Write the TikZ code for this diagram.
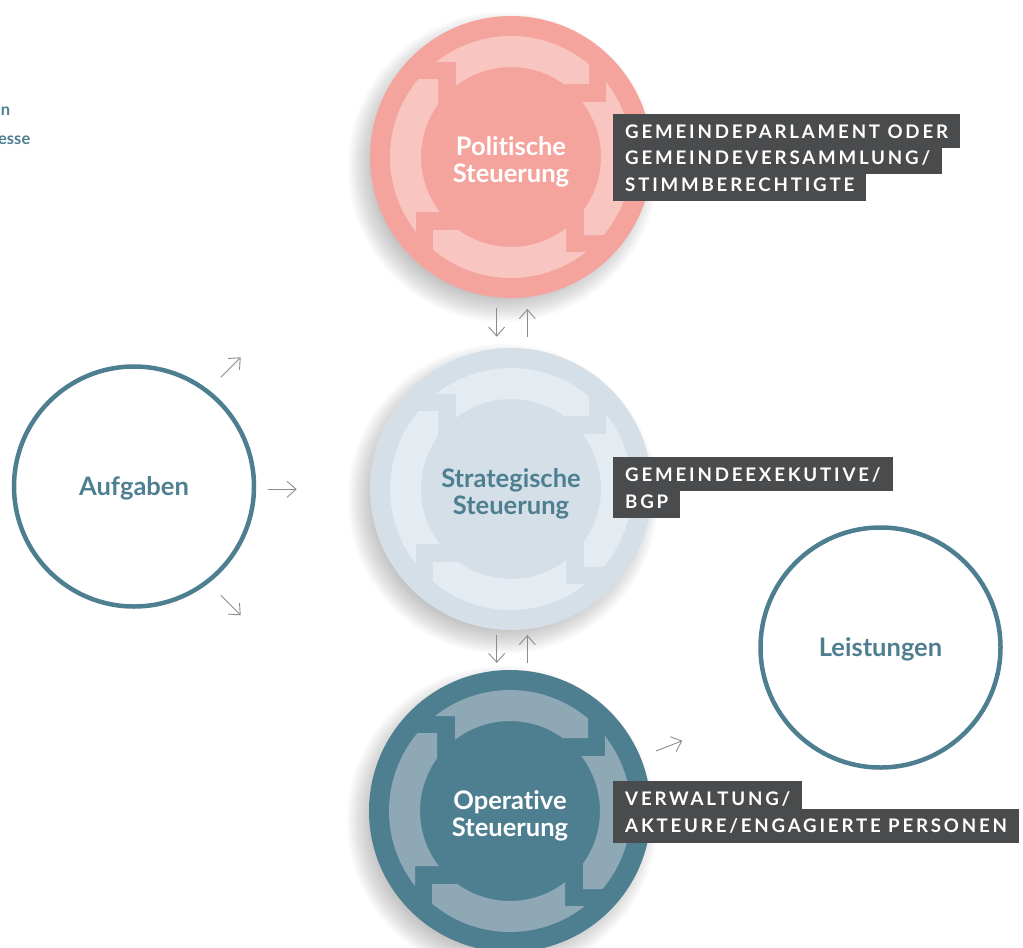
\documentclass[tikz,border=0pt]{standalone}
\usepackage{fontspec}
\setmainfont{Lato}[Ligatures=NoCommon]
\newfontfamily\tagfamily{Lato}[LetterSpace=15,Ligatures=NoCommon]
\usetikzlibrary{arrows.meta}

\definecolor{polfill}{HTML}{F5A39D}
\definecolor{polband}{HTML}{F8C5C1}
\definecolor{strfill}{HTML}{D4DFE8}
\definecolor{strband}{HTML}{E4EBF1}
\definecolor{opfill}{HTML}{4E7F90}
\definecolor{opband}{HTML}{8EA8B5}
\definecolor{tealline}{HTML}{4E7F91}
\definecolor{tagbg}{HTML}{4A4B4D}
\definecolor{arrowgray}{HTML}{8C8C8C}

% soft drop shadow below a stage circle: stacked translucent discs
\newcommand\stageshadow[1]{%
  \foreach \grow in {0,2,...,24}{%
    \fill[black, opacity=0.02, shift={(#1)}] (-8,10) circle[radius=131+\grow];
  }}

% four clockwise ring arrows around the centre of a stage circle
\newcommand\stagebands[2]{%
  \foreach \turn in {0,-90,-180,-270}{%
    \fill[#2, shift={(#1.center)}, yscale=-1, rotate=\turn]
      (127.67:90) -- (-55,95) -- (128.27:121)
      arc[start angle=128.27, end angle=49.86, radius=121]
      -- (78,73) -- (54.20:90)
      arc[start angle=54.20, end angle=127.67, radius=90] -- cycle;
  }}

\begin{document}
\begin{tikzpicture}[x=1pt,y=-1pt,
  stage/.style={circle, minimum size=282pt, inner sep=0pt},
  stagetext/.style={inner sep=0pt, align=center,
    font=\fontsize{25.5}{27}\selectfont\bfseries},
  field/.style={circle, minimum size=240pt, inner sep=0pt, draw=tealline,
    line width=4.5pt, fill=white, text=tealline, text height=18.5pt,
    text depth=0pt, font=\fontsize{25.5}{27}\selectfont\bfseries},
  tag/.style={fill=tagbg, text=white, anchor=base west, inner xsep=12pt,
    inner ysep=0pt, text height=24pt, text depth=10pt,
    font=\fontsize{18.7}{20}\tagfamily\bfseries},
  flow/.style={draw=arrowgray, line width=0.9pt,
    -{Straight Barb[length=9pt,width=16pt]}},
  fragment/.style={anchor=base east, inner sep=0pt, text=tealline,
    font=\fontsize{16.5}{18}\selectfont\bfseries}
]
\useasboundingbox (0,0) rectangle (1023,948);

% cut-off heading at the left margin
\node[fragment] (frag1) at (10.5,115) {n};
\node[fragment] (frag2) at (30.5,144) {esse};

% the three stages of steering
\coordinate (polc) at (511,157);
\coordinate (strc) at (511,489);
\coordinate (opc)  at (510,811);
\stageshadow{polc}
\stageshadow{strc}
\stageshadow{opc}
\node[stage, fill=polfill] (pol) at (polc) {};
\stagebands{pol}{polband}
\node[stagetext, text=white] (pol-t) at ([yshift=-4.5pt]polc) {Politische\\Steuerung};
\node[stage, fill=strfill] (str) at (strc) {};
\stagebands{str}{strband}
\node[stagetext, text=tealline] (str-t) at ([yshift=-4.5pt]strc) {Strategische\\Steuerung};
\node[stage, fill=opfill] (op) at (opc) {};
\stagebands{op}{opband}
\node[stagetext, text=white] (op-t) at ([yshift=-4.5pt]opc) {Operative\\Steuerung};

% input and output
\node[field] (auf) at (134,486.5) {Aufgaben};
\node[field] (lei) at (880.5,647.5) {Leistungen};

% small flow arrows
\coordinate (a1s) at (220.7,377.3); \coordinate (a1e) at (240.7,357.3);
\coordinate (a2s) at (268.3,489.3); \coordinate (a2e) at (296.7,489.3);
\coordinate (a3s) at (220.7,595.3); \coordinate (a3e) at (240.7,615.3);
\coordinate (b1s) at (496.7,308.3); \coordinate (b1e) at (496.7,336.7);
\coordinate (b2s) at (527.3,337);   \coordinate (b2e) at (527.3,309);
\coordinate (c1s) at (496.7,635);   \coordinate (c1e) at (496.7,663);
\coordinate (c2s) at (527.3,663);   \coordinate (c2e) at (527.3,635);
\coordinate (d1s) at (656,751);     \coordinate (d1e) at (682.3,740.7);
\draw[flow] (a1s) -- (a1e);
\draw[flow] (a2s) -- (a2e);
\draw[flow] (a3s) -- (a3e);
\draw[flow] (b1s) -- (b1e);
\draw[flow] (b2s) -- (b2e);
\draw[flow] (c1s) -- (c1e);
\draw[flow] (c2s) -- (c2e);
\draw[flow] (d1s) -- (d1e);

% actor labels, one dark bar per line
\node[tag] (t1a) at (613,138) {GEMEINDEPARLAMENT ODER};
\node[tag] (t1b) at (613,164) {GEMEINDEVERSAMMLUNG/};
\node[tag] (t1c) at (613,191) {STIMMBERECHTIGTE};
\node[tag] (t2a) at (613,481) {GEMEINDEEXEKUTIVE/};
\node[tag] (t2b) at (613,508) {BGP};
\node[tag] (t3a) at (613,805) {VERWALTUNG/};
\node[tag] (t3b) at (613,832.5) {AKTEURE/ENGAGIERTE PERSONEN};
\end{tikzpicture}
\end{document}
